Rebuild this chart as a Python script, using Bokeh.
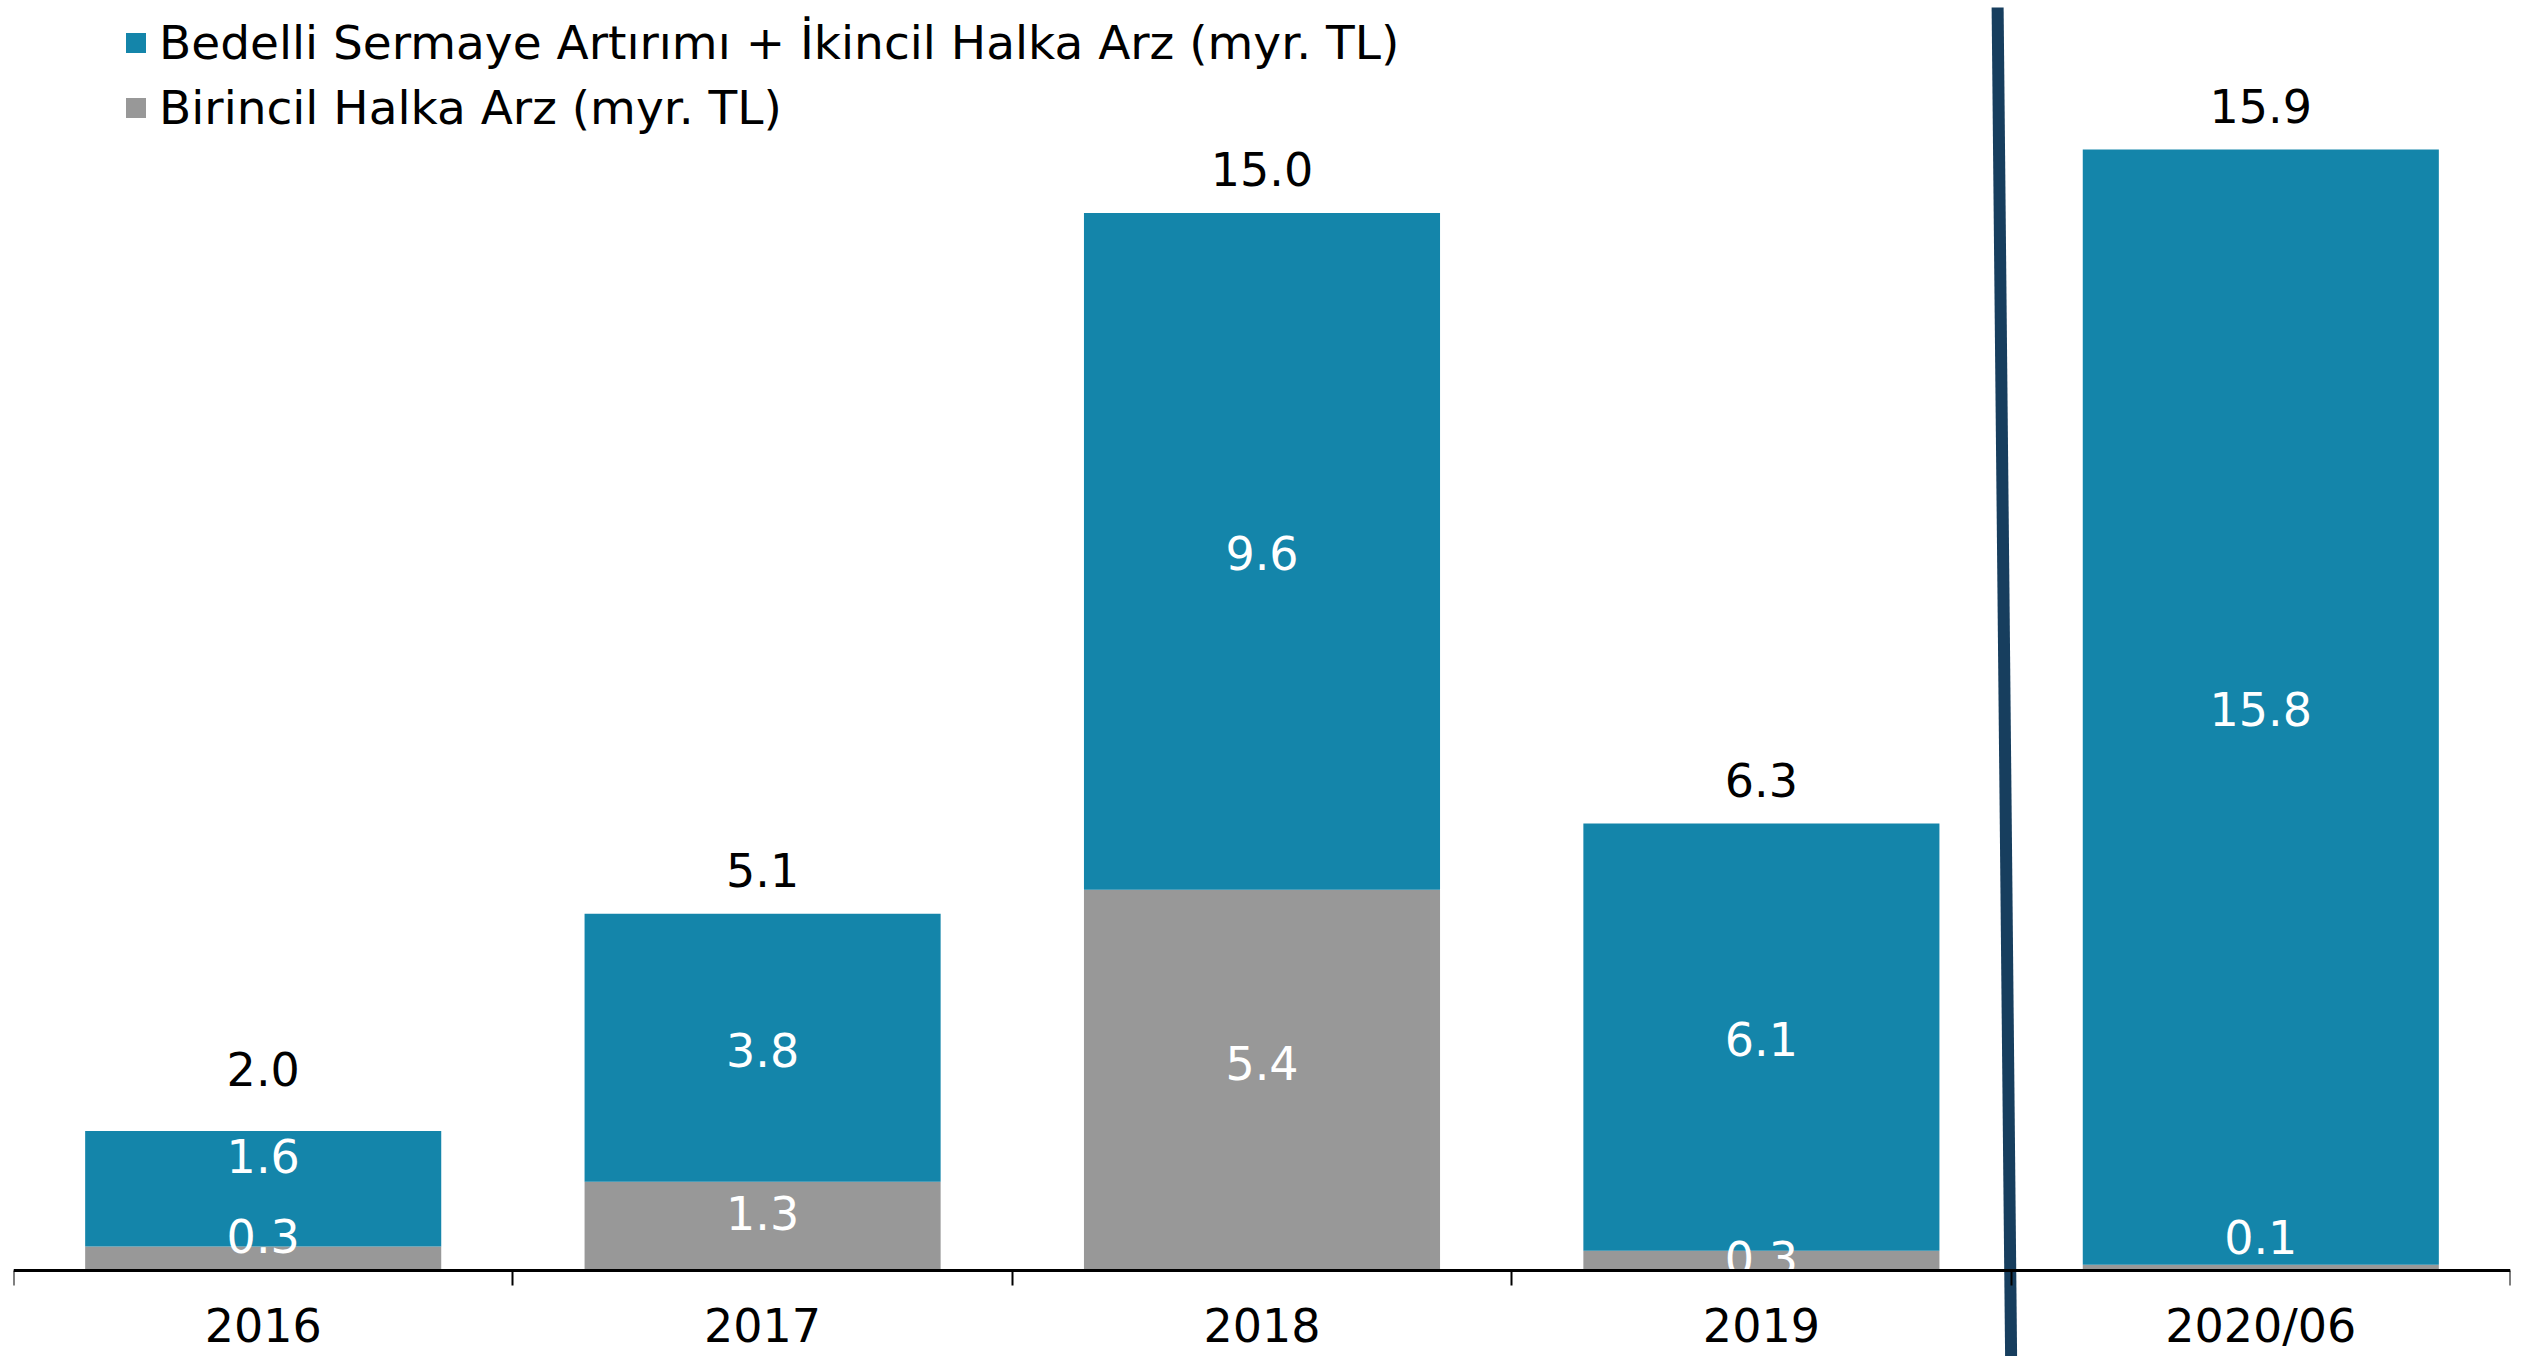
from bokeh.plotting import figure
from bokeh.models import ColumnDataSource, Range1d, FixedTicker, Legend, LegendItem
from bokeh.embed import file_html
from bokeh.resources import INLINE
from bokeh.core.properties import value

# ---- data ----
categories = ["2016", "2017", "2018", "2019", "2020/06"]
primary_ipo = [0.34, 1.26, 5.40, 0.28, 0.08]            # Birincil Halka Arz
capital_secondary = [1.64, 3.80, 9.60, 6.06, 15.82]     # Bedelli Sermaye Artırımı + İkincil Halka Arz
series_names = ["Bedelli Sermaye Artırımı + İkincil Halka Arz (myr. TL)",
                "Birincil Halka Arz (myr. TL)"]

# ---- style ----
BLUE = "#1485aa"
GRAY = "#989898"
NAVY = "#173e5e"
FONT = "DejaVu Sans"
FS = "46px"
FS_LEG = "47px"
# label nudges in screen pixels (negative = up), per category: (gray, blue, total)
NUDGE = {"2016": (-23, -33, -62), "2017": (-13, 2, -44), "2018": (-17, 2, -44),
         "2019": (-3, 2, -44), "2020/06": (-31, 2, -44)}

x = [i + 0.5 for i in range(len(categories))]
totals = [g + b for g, b in zip(primary_ipo, capital_secondary)]
src = ColumnDataSource(dict(
    x=x,
    gtop=primary_ipo,
    btop=totals,
    gmid=[g / 2 for g in primary_ipo],
    bmid=[g + b / 2 for g, b in zip(primary_ipo, capital_secondary)],
    glab=[f"{v:.1f}" for v in primary_ipo],
    blab=[f"{v:.1f}" for v in capital_secondary],
    tlab=[f"{v:.1f}" for v in totals],
    goff=[NUDGE[c][0] for c in categories],
    boff=[NUDGE[c][1] for c in categories],
    toff=[NUDGE[c][2] for c in categories],
))

Y_TOP, Y_BOT = 18.014, -1.22
p = figure(width=2531, height=1356,
           x_range=Range1d(0, len(categories)), y_range=Range1d(Y_BOT, Y_TOP),
           output_backend="svg", toolbar_location=None, y_axis_location=None,
           min_border_left=13, min_border_right=21, min_border_top=0, min_border_bottom=0,
           outline_line_color=None)
p.grid.grid_line_color = None

rg = p.vbar(x="x", width=0.713, bottom=0, top="gtop", fill_color=GRAY, line_color=None, source=src)
rb = p.vbar(x="x", width=0.713, bottom="gtop", top="btop", fill_color=BLUE, line_color=None, source=src)

# segment labels
p.text(x="x", y="gmid", text="glab", y_offset="goff", source=src, text_color="white",
       text_font=value(FONT), text_font_size=FS, text_align="center", text_baseline="middle")
p.text(x="x", y="bmid", text="blab", y_offset="boff", source=src, text_color="white",
       text_font=value(FONT), text_font_size=FS, text_align="center", text_baseline="middle")
# totals
p.text(x="x", y="btop", text="tlab", y_offset="toff", source=src, text_color="black",
       text_font=value(FONT), text_font_size=FS, text_align="center", text_baseline="middle")

# divider line between 2019 and 2020/06
p.segment(x0=[3.973], y0=[17.915], x1=[4.0], y1=[Y_BOT], line_color=NAVY, line_width=12)

# axis
ax = p.xaxis[0]
ax.fixed_location = 0
ax.ticker = FixedTicker(ticks=x, minor_ticks=list(range(len(categories) + 1)))
ax.major_label_overrides = {xi: c for xi, c in zip(x, categories)}
ax.major_tick_out = 0
ax.major_tick_in = 0
ax.minor_tick_out = 15
ax.minor_tick_in = 0
ax.minor_tick_line_color = "black"
ax.minor_tick_line_width = 2
ax.axis_line_color = "black"
ax.axis_line_width = 3
ax.major_label_standoff = 14
ax.major_label_text_font = FONT
ax.major_label_text_font_size = FS
ax.major_label_text_color = "black"

legend = Legend(items=[LegendItem(label=series_names[0], renderers=[rb]),
                       LegendItem(label=series_names[1], renderers=[rg])],
                location=(110, 1221), orientation="vertical",
                glyph_width=25, glyph_height=25, label_standoff=11,
                label_text_font=FONT, label_text_font_size=FS_LEG, label_text_color="black",
                spacing=10, padding=0, margin=0,
                border_line_color=None, background_fill_alpha=0)
p.add_layout(legend)

open("out.html", "w").write(file_html(p, INLINE))
